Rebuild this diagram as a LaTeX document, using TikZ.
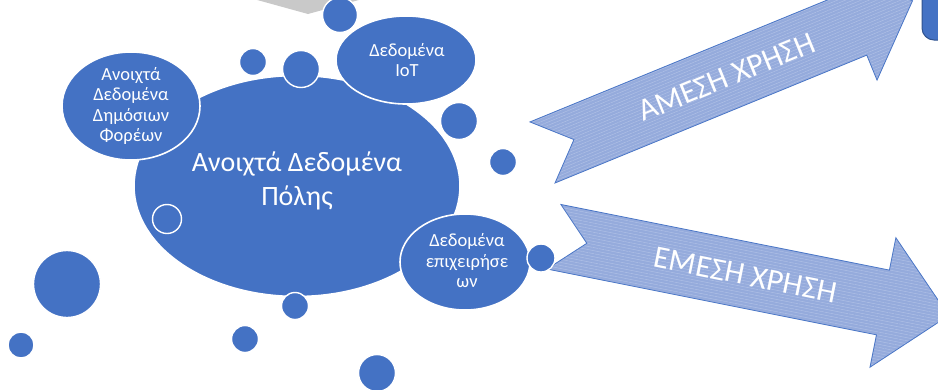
\documentclass[tikz,border=0pt]{standalone}
\usepackage{fontspec}
\setmainfont{Carlito}
\usetikzlibrary{shapes.geometric,patterns.meta}
\definecolor{ob}{HTML}{4472C4}
\definecolor{arrfill}{HTML}{95ABDC}
\definecolor{arrhatch}{HTML}{AFC0E6}
\definecolor{arrline}{HTML}{4A76C6}
\definecolor{grayshape}{HTML}{C9C9C9}
\definecolor{rectline}{HTML}{2F528F}
\begin{document}
\begin{tikzpicture}[x=1pt,y=1pt,
  bub/.style={ellipse, fill=ob, draw=white, line width=1.6pt, inner sep=0pt},
  dot/.style={circle, fill=ob, draw=white, line width=1.4pt, inner sep=0pt},
  txt/.style={text=white, align=center, inner sep=0pt, font=\fontsize{18.5}{20.5}\selectfont},
  bigtxt/.style={text=white, align=center, inner sep=0pt, font=\fontsize{28}{34}\selectfont},
  arrtxt/.style={text=white, inner sep=0pt, font=\fontsize{31.5}{34}\selectfont},
  bigarrow/.style={draw=arrline, line width=0.8pt, preaction={fill=arrfill}, pattern color=arrhatch}]
\useasboundingbox (0,0) rectangle (938,-389);
\clip (0,0) rectangle (938,-389);

% upper arrow
\begin{scope}[shift={(555,-183)}, rotate=22.3]
  \draw[bigarrow, pattern={Lines[angle=22.3,distance=3pt,line width=0.5pt]}]
    (0,0) -- (337,0) -- (337,-27) -- (400,33) -- (337,93) -- (337,66) -- (0,66) -- (34,33) -- cycle;
  \node[arrtxt, rotate=22.3] (amesi) at (199,33) {ΑΜΕΣΗ ΧΡΗΣΗ};
\end{scope}

% lower arrow
\begin{scope}[shift={(547,-269)}, rotate=-11.3]
  \draw[bigarrow, pattern={Lines[angle=-11.3,distance=3pt,line width=0.5pt]}]
    (0,0) -- (336,0) -- (336,-33) -- (403,33) -- (336,99) -- (336,66) -- (1,66) -- (34,33) -- cycle;
  \node[arrtxt, rotate=-11.3] (emesi) at (196,33) {ΕΜΕΣΗ ΧΡΗΣΗ};
\end{scope}

% top-right rounded box and grey shape
\draw[fill=ob, draw=rectline, line width=1pt, rounded corners=12] (922,12) rectangle (970,-40);
\fill[grayshape] (250,2) -- (308,-14) -- (366,2) -- cycle;

% bubbles
\node[bub, minimum width=326, minimum height=221] (main) at (297,-186) {};
\node[bigtxt] (maintxt) at (297,-181) {Ανοιχτά Δεδομένα\\Πόλης};

\node[dot, minimum size=27] (c2) at (253,-62) {};
\node[dot, minimum size=37] (c3) at (301,-69) {};
\node[dot, minimum size=35] (c1) at (340,-15) {};

\node[bub, minimum width=138, minimum height=108] (pub) at (131,-106) {};
\node[txt] (pubtxt) at (131,-106) {Ανοιχτά\\Δεδομένα\\Δημόσιων\\Φορέων};

\node[bub, minimum width=140, minimum height=88] (iot) at (406,-60) {};
\node[txt] (iottxt) at (407,-60) {Δεδομένα\\IoT};

\node[dot, minimum size=37] (c4) at (459,-121) {};
\node[dot, minimum size=27] (c5) at (503,-162) {};
\node[dot, minimum size=29] (c6) at (167,-219) {};

\node[bub, minimum width=130, minimum height=96] (biz) at (465,-262) {};
\node[txt] (biztxt) at (467,-261) {Δεδομένα\\επιχειρήσε\\ων};

\node[dot, minimum size=28] (c12) at (541,-258) {};
\node[dot, minimum size=27] (c9) at (295,-306) {};
\node[dot, minimum size=67] (c7) at (67,-284) {};
\node[dot, minimum size=26] (c8) at (21,-345) {};
\node[dot, minimum size=27] (c10) at (245,-339) {};
\node[dot, minimum size=37] (c11) at (377,-373) {};
\end{tikzpicture}
\end{document}
